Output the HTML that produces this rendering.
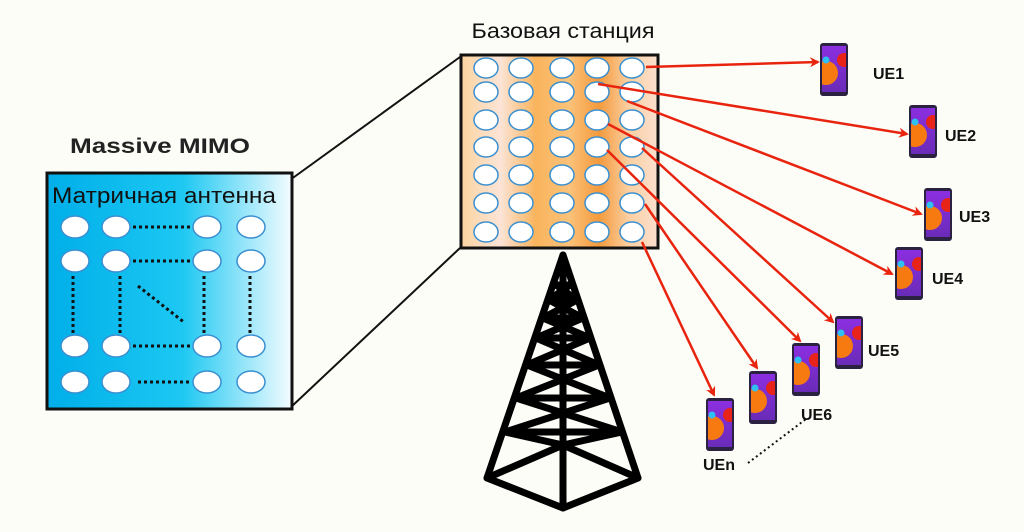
<!DOCTYPE html>
<html><head><meta charset="utf-8"><style>
html,body{margin:0;padding:0;background:#fdfdf8;}
svg{display:block;}
text{font-family:"Liberation Sans",sans-serif;}
</style></head><body>
<svg width="1024" height="532" viewBox="0 0 1024 532" xmlns="http://www.w3.org/2000/svg">
<defs>
<linearGradient id="lg" x1="0" x2="1" y1="0" y2="0">
<stop offset="0" stop-color="#00aee9"/><stop offset="0.55" stop-color="#1cc8f2"/><stop offset="1" stop-color="#f4fcff"/></linearGradient>
<linearGradient id="og" x1="0" x2="1" y1="0" y2="0">
<stop offset="0" stop-color="#fbd3a0"/><stop offset="0.2" stop-color="#fbe4d6"/><stop offset="0.38" stop-color="#f9b45c"/><stop offset="0.55" stop-color="#fbc27a"/><stop offset="0.7" stop-color="#f49a3c"/><stop offset="0.85" stop-color="#fbcfa0"/><stop offset="1" stop-color="#fbe0d0"/></linearGradient>
<linearGradient id="pg" x1="0" x2="0" y1="0" y2="1"><stop offset="0" stop-color="#8b2fe0"/><stop offset="1" stop-color="#6a2bb8"/></linearGradient>
<clipPath id="pc"><rect x="2" y="3" width="24" height="46"/></clipPath>
<marker id="ah" markerWidth="10" markerHeight="10" refX="8" refY="5" orient="auto" markerUnits="userSpaceOnUse"><path d="M0,0 L10,5 L0,10 L3,5 z" fill="#e8240f"/></marker>
<g id="ph"><rect x="0" y="0" width="28" height="53" rx="3" fill="#2a2240"/><rect x="2" y="3" width="24" height="46" fill="url(#pg)"/><g clip-path="url(#pc)"><circle cx="6" cy="30" r="12" fill="#f77a10"/><circle cx="24" cy="17" r="7" fill="#e8231a"/><circle cx="6" cy="17" r="3.5" fill="#2ec0f0"/></g></g>
<g id="row"><ellipse cx="486" cy="0" rx="12" ry="10"/><ellipse cx="521" cy="0" rx="12" ry="10"/><ellipse cx="562" cy="0" rx="12" ry="10"/><ellipse cx="597" cy="0" rx="12" ry="10"/><ellipse cx="632" cy="0" rx="12" ry="10"/></g>
</defs>

<line x1="460" y1="57" x2="290" y2="180" stroke="#111" stroke-width="2"/>
<line x1="460" y1="248" x2="290" y2="408" stroke="#111" stroke-width="2"/>

<text x="70" y="153" font-size="21" font-weight="bold" fill="#222" textLength="180" lengthAdjust="spacingAndGlyphs">Massive MIMO</text>
<rect x="47" y="173" width="245" height="236" fill="url(#lg)" stroke="#111" stroke-width="3"/>
<text x="52" y="203" font-size="22" fill="#111" textLength="224" lengthAdjust="spacingAndGlyphs">Матричная антенна</text>
<g stroke="#111" stroke-width="3" stroke-dasharray="3,3" fill="none">
<line x1="133" y1="227" x2="192" y2="227"/>
<line x1="133" y1="261" x2="192" y2="261"/>
<line x1="133" y1="346" x2="192" y2="346"/>
<line x1="138" y1="382" x2="192" y2="382"/>
<line x1="73" y1="276" x2="73" y2="334"/>
<line x1="120" y1="276" x2="120" y2="334"/>
<line x1="204" y1="276" x2="204" y2="334"/>
<line x1="250" y1="276" x2="250" y2="334"/>
<line x1="138" y1="286" x2="185" y2="323"/>
</g>
<g fill="#fff" stroke="#3a8fd0" stroke-width="1.5">
<ellipse cx="75" cy="227" rx="14" ry="11"/><ellipse cx="116" cy="227" rx="14" ry="11"/><ellipse cx="207" cy="227" rx="14" ry="11"/><ellipse cx="251" cy="227" rx="14" ry="11"/>
<ellipse cx="75" cy="261" rx="14" ry="11"/><ellipse cx="116" cy="261" rx="14" ry="11"/><ellipse cx="207" cy="261" rx="14" ry="11"/><ellipse cx="251" cy="261" rx="14" ry="11"/>
<ellipse cx="75" cy="346" rx="14" ry="11"/><ellipse cx="116" cy="346" rx="14" ry="11"/><ellipse cx="207" cy="346" rx="14" ry="11"/><ellipse cx="251" cy="346" rx="14" ry="11"/>
<ellipse cx="75" cy="382" rx="14" ry="11"/><ellipse cx="116" cy="382" rx="14" ry="11"/><ellipse cx="207" cy="382" rx="14" ry="11"/><ellipse cx="251" cy="382" rx="14" ry="11"/>
</g>

<text x="563" y="38" font-size="21" fill="#111" text-anchor="middle" textLength="183" lengthAdjust="spacingAndGlyphs">Базовая станция</text>
<rect x="461" y="55" width="197" height="193" fill="url(#og)" stroke="#111" stroke-width="3"/>
<g fill="#fff" stroke="#3a8fd0" stroke-width="1.5">
<use href="#row" y="68"/><use href="#row" y="92"/><use href="#row" y="120"/><use href="#row" y="147"/><use href="#row" y="175"/><use href="#row" y="203"/><use href="#row" y="232"/>
</g>

<g stroke="#000" stroke-width="7" fill="none" stroke-linejoin="round" stroke-linecap="round">
<path d="M563,255 L487,478 L563,508 L638,478 Z"/>
<line x1="563" y1="255" x2="563" y2="508"/>
<path d="M487,478 L563,445 L638,478"/>
<path d="M556,285 L570,285 M549,300 L577,300 M543,318 L583,318 M536,338 L590,338 M527,365 L599,365 M516,398 L610,398 M505,432 L622,432"/>
<path d="M556,285 L577,300 L543,318 L590,338 L527,365 L610,398 L505,432 L563,445 M570,285 L549,300 L583,318 L536,338 L599,365 L516,398 L622,432 L563,445"/>
</g>

<g stroke="#e8240f" stroke-width="2.5" marker-end="url(#ah)">
<line x1="646" y1="67" x2="818" y2="62"/>
<line x1="598" y1="84" x2="907" y2="134"/>
<line x1="627" y1="101" x2="921" y2="214"/>
<line x1="608" y1="124" x2="892" y2="274"/>
<line x1="642" y1="148" x2="833" y2="322"/>
<line x1="607" y1="150" x2="800" y2="341"/>
<line x1="645" y1="204" x2="757" y2="368"/>
<line x1="642" y1="242" x2="714" y2="395"/>
</g>

<use href="#ph" x="820" y="43"/>
<use href="#ph" x="909" y="105"/>
<use href="#ph" x="924" y="188"/>
<use href="#ph" x="895" y="247"/>
<use href="#ph" x="835" y="316"/>
<use href="#ph" x="792" y="343"/>
<use href="#ph" x="749" y="371"/>
<use href="#ph" x="706" y="398"/>
<g font-size="16" font-weight="bold" fill="#111">
<text x="873" y="79">UE1</text>
<text x="945" y="141">UE2</text>
<text x="959" y="222">UE3</text>
<text x="932" y="284">UE4</text>
<text x="868" y="356">UE5</text>
<text x="801" y="420">UE6</text>
<text x="703" y="470">UEn</text>
</g>
<line x1="748" y1="463" x2="806" y2="419" stroke="#111" stroke-width="2" stroke-dasharray="2,3"/>
</svg>
</body></html>
